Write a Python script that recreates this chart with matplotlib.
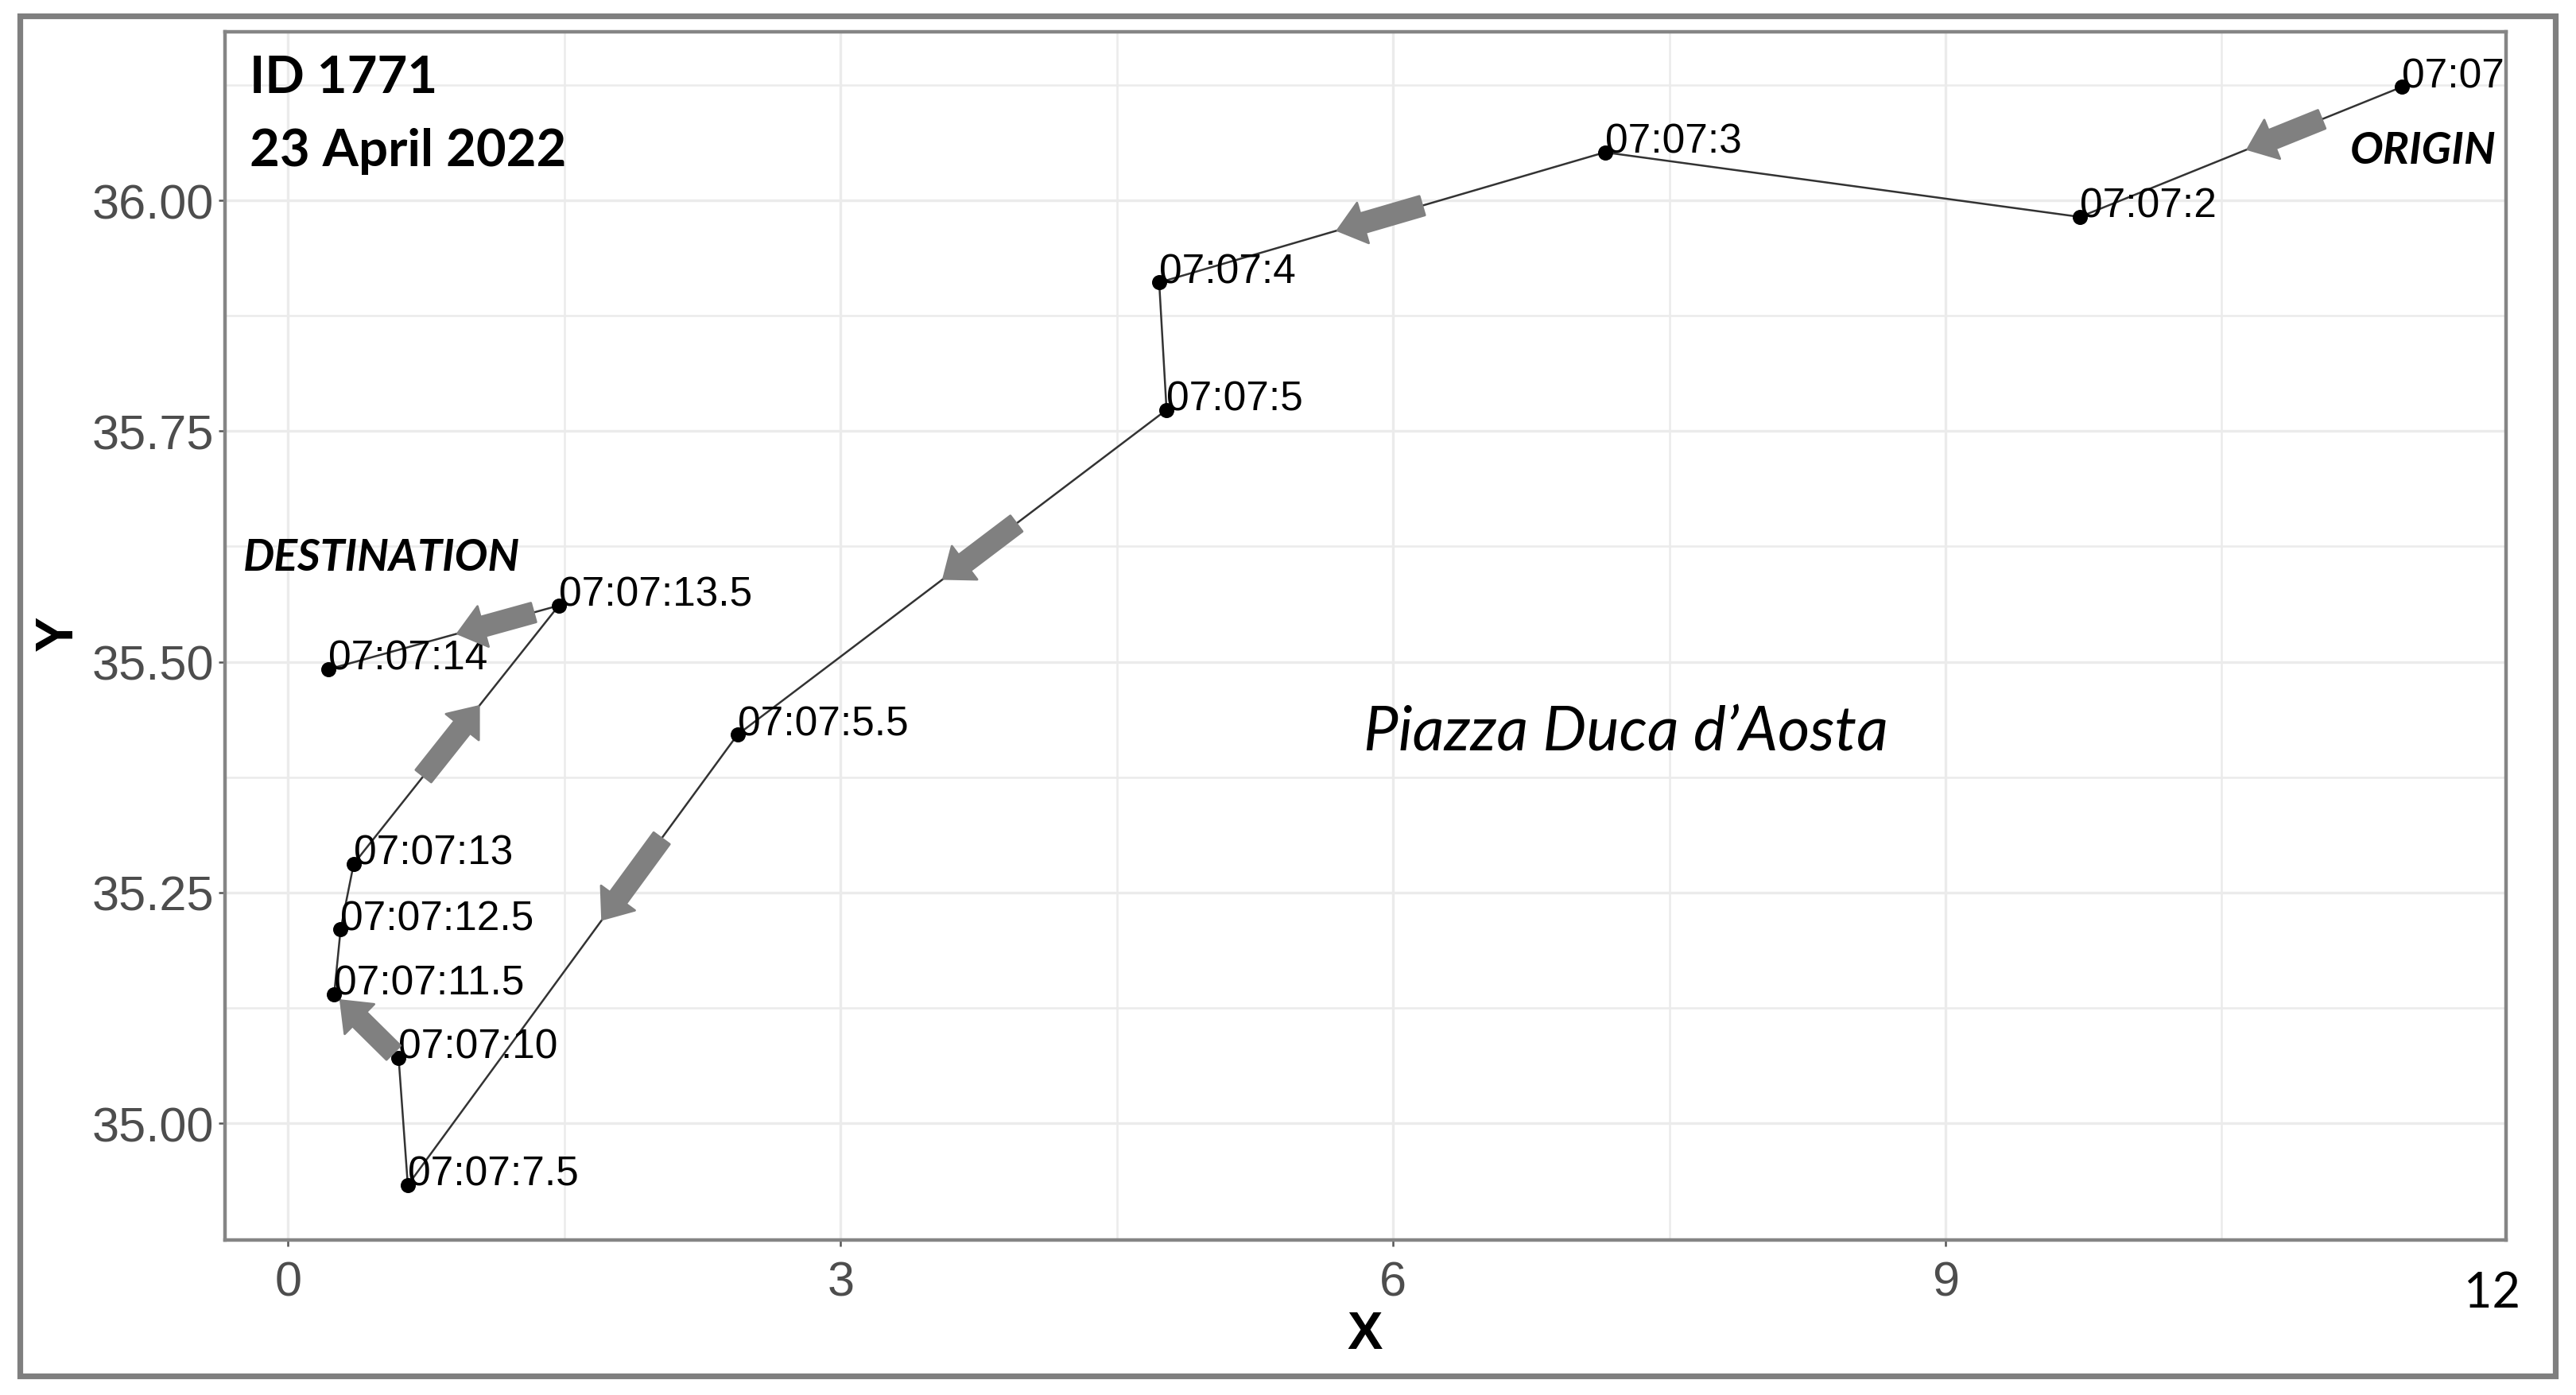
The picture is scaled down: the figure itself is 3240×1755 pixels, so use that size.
import numpy as np
import matplotlib
matplotlib.use("Agg")
import matplotlib.pyplot as plt
from matplotlib.patches import Rectangle

# track points, in time order
times = ["07:07", "07:07:2", "07:07:3", "07:07:4", "07:07:5", "07:07:5.5",
         "07:07:7.5", "07:07:10", "07:07:11.5", "07:07:12.5", "07:07:13",
         "07:07:13.5", "07:07:14"]
x = [11.48, 9.73, 7.15, 4.73, 4.77, 2.44, 0.65, 0.60, 0.25, 0.285, 0.356, 1.47, 0.22]
y = [36.123, 35.982, 36.052, 35.911, 35.773, 35.421, 34.933, 35.071, 35.140,
     35.210, 35.281, 35.561, 35.492]

# direction arrows: segment index and start/end fraction along it
arrow_seg = [0, 2, 4, 5, 7, 10, 11]
arrow_from = [0.25, 0.41, 0.35, 0.23, 0.08, 0.34, 0.11]
arrow_to = [0.48, 0.60, 0.52, 0.41, 0.90, 0.61, 0.44]

x_ticks = [0, 3, 6, 9]
y_ticks = [35.00, 35.25, 35.50, 35.75, 36.00]

W, H, DPI = 3241, 1756, 200
fig = plt.figure(figsize=(W / DPI, H / DPI), dpi=DPI)
fig.patch.set_facecolor("white")

# outer grey frame
fig.patches.append(Rectangle((0.0077, 0.0137), 0.984, 0.9743, transform=fig.transFigure,
                             fill=False, edgecolor="#7f7f7f", linewidth=2.6, zorder=0))

ax = fig.add_axes([0.0873, 0.111, 0.8852, 0.8656])
ax.set_facecolor("white")

xs = np.array(x)
ys = np.array(y)
ax.plot(xs, ys, color="#333333", linewidth=0.9, zorder=3)
ax.scatter(xs, ys, s=34, color="black", zorder=4)

for t, px, py in zip(times, xs, ys):
    ax.text(px, py, t, ha="left", va="baseline", fontsize=18.5,
            family="Liberation Sans", color="black", zorder=5)

for si, f0, f1 in zip(arrow_seg, arrow_from, arrow_to):
    p0 = np.array([xs[si], ys[si]])
    p1 = np.array([xs[si + 1], ys[si + 1]])
    tail = p0 + f0 * (p1 - p0)
    tip = p0 + f1 * (p1 - p0)
    ax.annotate("", xy=tip, xytext=tail, zorder=6,
                arrowprops=dict(arrowstyle="simple,head_length=12,head_width=19,tail_width=9",
                                mutation_scale=1, color="#808080", shrinkA=0, shrinkB=0))

# ggplot-like expansion of the data range
ax.margins(0.05)

ax.set_xticks(x_ticks)
ax.set_xticks([1.5, 4.5, 7.5, 10.5], minor=True)
ax.set_yticks(y_ticks)
ax.set_yticks([35.125, 35.375, 35.625, 35.875, 36.125], minor=True)
ax.set_yticklabels([f"{v:.2f}" for v in y_ticks])
ax.grid(which="major", color="#ebebeb", linewidth=1.2)
ax.grid(which="minor", color="#ebebeb", linewidth=0.9)
ax.set_axisbelow(True)
ax.tick_params(which="major", length=3, width=0.9, color="#555555", labelsize=22,
               labelcolor="#4d4d4d")
ax.tick_params(axis="x", pad=6)
ax.tick_params(axis="y", pad=2)
ax.tick_params(which="minor", length=0)
for lab in ax.get_xticklabels() + ax.get_yticklabels():
    lab.set_family("Liberation Sans")
for sp in ax.spines.values():
    sp.set_color("#858585")
    sp.set_linewidth(1.6)

ax.text(0.4996, -0.078, "X", transform=ax.transAxes, ha="center", va="center",
        fontsize=24, fontweight="bold", family="Liberation Sans")
ax.text(-0.073, 0.503, "Y", transform=ax.transAxes, ha="center", va="center",
        rotation=90, fontsize=24, fontweight="bold", family="Liberation Sans")
ax.text(0.994, -0.0435, "12", transform=ax.transAxes, ha="center", va="center",
        fontsize=22, family="Lato", color="black")

# annotations
ax.text(0.0108, 0.962, "ID 1771", transform=ax.transAxes, ha="left", va="center",
        fontsize=23.5, fontweight="bold", family="Lato")
ax.text(0.0108, 0.902, "23 April 2022", transform=ax.transAxes, ha="left", va="center",
        fontsize=23.5, fontweight="bold", family="Lato")
ax.text(0.0079, 0.565, "DESTINATION", transform=ax.transAxes, ha="left", va="center",
        fontsize=20, fontweight="bold", style="italic", family="Lato")
ax.text(0.9957, 0.902, "ORIGIN", transform=ax.transAxes, ha="right", va="center",
        fontsize=20, fontweight="bold", style="italic", family="Lato")
ax.text(0.4993, 0.420, "Piazza Duca d\u2019Aosta", transform=ax.transAxes, ha="left",
        va="center", fontsize=28, style="italic", family="Lato")

fig.savefig("out.png", dpi=DPI)
